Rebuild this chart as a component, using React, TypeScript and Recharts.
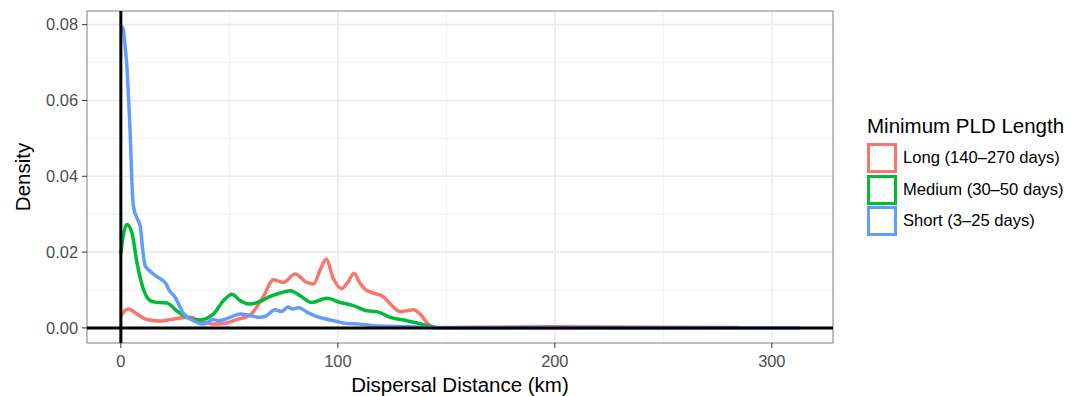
import { LineChart, Line, XAxis, YAxis, CartesianGrid, ReferenceLine, ReferenceArea, Legend } from "recharts";

// dispersal distance (km) vs density
const shortX = [0, 1, 2, 2.8, 3.5, 4.3, 5.1, 5.8, 7.4, 8.9, 10, 11.2, 13, 15, 17.5, 19.6, 21, 22, 25, 29, 33.5, 38, 42.5, 45, 50, 55, 60, 64, 67, 71, 74, 77, 79, 82, 86, 89.5, 94, 98, 104, 110, 116, 128, 140, 150, 200, 250, 313];
const shortY = [0.0796, 0.079, 0.074, 0.0689, 0.061, 0.0515, 0.0383, 0.0321, 0.029, 0.0269, 0.021, 0.0164, 0.0152, 0.0142, 0.0132, 0.0124, 0.0115, 0.0102, 0.0081, 0.0037, 0.0019, 0.001, 0.0022, 0.0019, 0.0027, 0.0037, 0.0032, 0.0028, 0.0032, 0.0048, 0.0043, 0.0055, 0.005, 0.0053, 0.0041, 0.0032, 0.0024, 0.0019, 0.0012, 0.001, 0.0006, 0.0004, 0.0002, 0, 0, 0, 0];

const mediumX = [0, 1, 2.8, 5.1, 7.4, 10.4, 13.5, 16, 18.1, 21.2, 25.8, 30.4, 36.5, 42.7, 47.3, 51.2, 55, 59.6, 64.2, 68.8, 73.4, 78, 82.6, 88, 94.9, 101, 107.2, 113.4, 118, 124.1, 131.8, 136.4, 142.5, 145];
const mediumY = [0.0195, 0.024, 0.0273, 0.0251, 0.0173, 0.0102, 0.0072, 0.0068, 0.0067, 0.0066, 0.0045, 0.0028, 0.0021, 0.0037, 0.0072, 0.0089, 0.0072, 0.0063, 0.007, 0.0083, 0.0092, 0.0098, 0.0085, 0.0067, 0.0078, 0.0067, 0.0059, 0.0045, 0.0043, 0.0028, 0.0019, 0.0013, 0.0004, 0.0001];

const longX = [0, 1, 3.5, 7.4, 12, 18, 25.8, 31.9, 36.5, 42.7, 47, 53.4, 59.6, 65.7, 70.3, 74.9, 80.3, 85.7, 88.8, 92, 94.6, 98, 101.8, 104.5, 107.5, 110, 112.6, 116.4, 120.3, 124.9, 128.7, 131.5, 134.8, 137.9, 141.7, 144.5, 150, 165, 200, 250, 285];
const longY = [0.003, 0.004, 0.005, 0.0037, 0.0022, 0.0018, 0.0025, 0.0028, 0.0019, 0.001, 0.0011, 0.0022, 0.0034, 0.0083, 0.0127, 0.012, 0.0142, 0.012, 0.0116, 0.0155, 0.0181, 0.0129, 0.0104, 0.012, 0.0144, 0.012, 0.0102, 0.0092, 0.0085, 0.0059, 0.0043, 0.0045, 0.0048, 0.0037, 0.001, 0.0002, 0.0001, 0.0002, 0.0003, 0.0002, 0.0001];

const xTicks = [0, 100, 200, 300];
const xMinor = [50, 150, 250];
const yTicks = [0, 0.02, 0.04, 0.06, 0.08];
const yMinor = [0.01, 0.03, 0.05, 0.07];

const xDomain = [-15.6, 328.2];
const yDomain = [-0.00398, 0.0836];

const zip = (xs: number[], ys: number[]) => xs.map((x, i) => ({ x, y: ys[i] }));

const series = [
  { name: "Long (140\u2013270 days)", color: "#F8766D", data: zip(longX, longY) },
  { name: "Medium (30\u201350 days)", color: "#00BA38", data: zip(mediumX, mediumY) },
  { name: "Short (3\u201325 days)", color: "#619CFF", data: zip(shortX, shortY) },
];

const font = "'Liberation Sans', Arial, Helvetica, sans-serif";

function PldLegend({ payload }: any) {
  return (
    <div style={{ fontFamily: font, color: "#000" }}>
      <div style={{ fontSize: 20.5, lineHeight: "24px", marginBottom: 4, whiteSpace: "nowrap" }}>Minimum PLD Length</div>
      {(payload ?? []).map((entry: any) => (
        <div key={entry.value} style={{ display: "flex", alignItems: "center", height: 31.7 }}>
          <div style={{ boxSizing: "border-box", width: 30, height: 30, border: `3.5px solid ${entry.color}`, background: "#fff" }} />
          <span style={{ fontSize: 16.6, marginLeft: 6, whiteSpace: "nowrap" }}>{entry.value}</span>
        </div>
      ))}
    </div>
  );
}

export default function App() {
  return (
    <div style={{ position: "absolute", left: 0, top: 0, background: "#fff" }}>
      <LineChart width={1081} height={396} margin={{ top: 11, right: 248, bottom: 0, left: 0 }}>
        <CartesianGrid stroke="#ebebeb" strokeWidth={0.8} horizontalValues={yMinor} verticalValues={xMinor} />
        <CartesianGrid stroke="#ebebeb" strokeWidth={1.6} horizontalValues={yTicks} verticalValues={xTicks} />
        <XAxis
          type="number"
          dataKey="x"
          domain={xDomain}
          allowDataOverflow
          ticks={xTicks}
          height={53}
          axisLine={false}
          tickLine={{ stroke: "#333" }}
          tickSize={5}
          tickMargin={7}
          tick={{ fill: "#4d4d4d", fontSize: 16.4, fontFamily: font }}
          label={{ value: "Dispersal Distance (km)", position: "insideBottom", offset: 4, style: { fill: "#000", fontSize: 20.5, fontFamily: font } }}
        />
        <YAxis
          type="number"
          domain={yDomain}
          allowDataOverflow
          ticks={yTicks}
          width={87}
          axisLine={false}
          tickLine={{ stroke: "#333" }}
          tickSize={5}
          tickMargin={4}
          tickFormatter={(v) => v.toFixed(2)}
          tick={{ fill: "#4d4d4d", fontSize: 16.4, fontFamily: font }}
          label={{ value: "Density", angle: -90, position: "insideLeft", offset: 22.5, style: { textAnchor: "middle", fill: "#000", fontSize: 20.5, fontFamily: font } }}
        />
        {series.map((s) => (
          <Line
            key={s.name}
            data={s.data}
            dataKey="y"
            name={s.name}
            type="monotone"
            stroke={s.color}
            strokeWidth={3.5}
            dot={false}
            isAnimationActive={false}
          />
        ))}
        <ReferenceLine x={0} stroke="#000" strokeWidth={3} />
        <ReferenceLine y={0} stroke="#000" strokeWidth={3} />
        <ReferenceArea x1={xDomain[0]} x2={xDomain[1]} y1={yDomain[0]} y2={yDomain[1]} fill="none" stroke="#7f7f7f" strokeWidth={1} />
        <Legend
          layout="vertical"
          align="center"
          verticalAlign="middle"
          wrapperStyle={{ left: 867, top: 114, width: 214 }}
          content={<PldLegend />}
        />
      </LineChart>
    </div>
  );
}
